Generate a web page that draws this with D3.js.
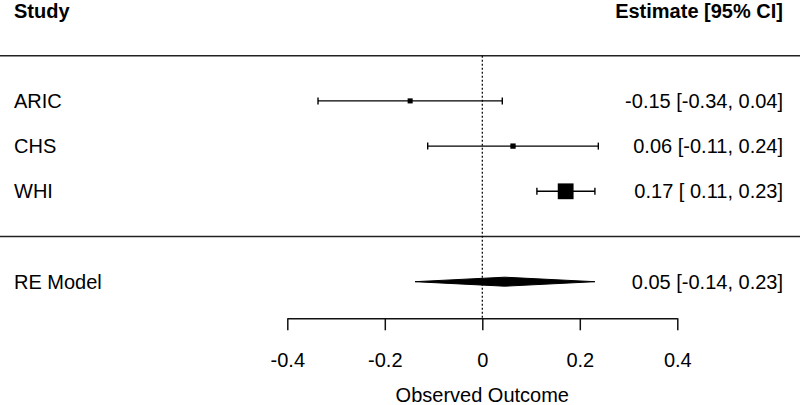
<!DOCTYPE html>
<html>
<head>
    <script type="text/javascript" src="https://d3js.org/d3.v7.min.js"></script>
    <style>
        body { margin: 0; background: #fff; }
        svg { display: block; }
        text { font-family: "Liberation Sans", Arial, sans-serif; font-size: 20px; fill: #000; white-space: pre; }
    </style>
</head>
<body>
    <svg></svg>
    <script>
        // study level results
        const studies = ["ARIC", "CHS", "WHI"];
        const estimates = [-0.148, 0.063, 0.171];
        const lowerCI = [-0.337, -0.112, 0.112];
        const upperCI = [0.041, 0.238, 0.231];
        const weights = [8.4, 9.3, 82.3];

        // pooled random-effects result
        const pooledLabel = "RE Model";
        const pooledEst = 0.046;
        const pooledLower = -0.138;
        const pooledUpper = 0.231;

        const xTicks = [-0.4, -0.2, 0, 0.2, 0.4];

        const width = 800, height = 405;
        const svg = d3.select("svg").attr("width", width).attr("height", height);

        const x = d3.scaleLinear().domain([-0.4, 0.4]).range([287.3, 677.3]);
        // rows: k..1 for studies, 0 separator, -1 pooled, k+1 top line, k+2 headers
        const k = studies.length;
        const y = d3.scaleLinear().domain([0, k + 2]).range([236.5, 10.5]);
        const axisY = 318.3;

        const size = d3.scaleSqrt().domain([0, d3.max(weights)]).range([0, 15.8]);

        // format with a leading space when the column has negatives
        const f2 = v => (Math.round(v * 100) / 100).toFixed(2);
        const padFmt = (vals) => {
            const neg = vals.some(v => v < 0);
            return v => (neg && v >= 0 ? " " : "") + f2(v);
        };
        const allLo = lowerCI.concat([pooledLower]);
        const allHi = upperCI.concat([pooledUpper]);
        const fLo = padFmt(allLo), fHi = padFmt(allHi);
        const label = (e, l, u) => f2(e) + " [" + fLo(l) + ", " + fHi(u) + "]";

        const rows = studies.map((s, i) => ({
            name: s, est: estimates[i], lo: lowerCI[i], hi: upperCI[i], w: weights[i], row: k - i
        }));

        // horizontal rules
        svg.selectAll("line.rule")
            .data([k + 1, 0])
            .enter().append("line")
            .attr("class", "rule")
            .attr("x1", 0).attr("x2", width)
            .attr("y1", d => y(d)).attr("y2", d => y(d))
            .attr("stroke", "#222").attr("stroke-width", 1.6);

        // reference line at zero
        svg.append("line")
            .attr("x1", x(0)).attr("x2", x(0))
            .attr("y1", y(k + 1)).attr("y2", axisY)
            .attr("stroke", "#000").attr("stroke-width", 1.2)
            .attr("stroke-dasharray", "2,2");

        // headers
        svg.append("text").attr("x", 14).attr("y", y(k + 2)).attr("dy", "0.35em")
            .style("font-weight", "bold").text("Study");
        svg.append("text").attr("x", 783).attr("y", y(k + 2)).attr("dy", "0.35em")
            .attr("text-anchor", "end").style("font-weight", "bold").text("Estimate [95% CI]");

        // study rows
        const g = svg.selectAll("g.study").data(rows).enter().append("g").attr("class", "study");
        g.append("line")
            .attr("x1", d => x(d.lo)).attr("x2", d => x(d.hi))
            .attr("y1", d => y(d.row)).attr("y2", d => y(d.row))
            .attr("stroke", "#000").attr("stroke-width", 1.4);
        ["lo", "hi"].forEach(key => {
            g.append("line")
                .attr("x1", d => x(d[key])).attr("x2", d => x(d[key]))
                .attr("y1", d => y(d.row) - 3.5).attr("y2", d => y(d.row) + 3.5)
                .attr("stroke", "#000").attr("stroke-width", 1.4);
        });
        g.append("rect")
            .attr("x", d => x(d.est) - size(d.w) / 2)
            .attr("y", d => y(d.row) - size(d.w) / 2)
            .attr("width", d => size(d.w)).attr("height", d => size(d.w))
            .attr("fill", "#000");
        g.append("text").attr("x", 14).attr("y", d => y(d.row)).attr("dy", "0.35em").text(d => d.name);
        g.append("text").attr("x", 783).attr("y", d => y(d.row)).attr("dy", "0.35em")
            .attr("text-anchor", "end").text(d => label(d.est, d.lo, d.hi));

        // pooled diamond
        const py = y(-1);
        svg.append("polygon")
            .attr("points", [[x(pooledLower), py], [x(pooledEst), py - 4.5], [x(pooledUpper), py], [x(pooledEst), py + 4.5]]
                .map(p => p.join(",")).join(" "))
            .attr("fill", "#000").attr("stroke", "#000").attr("stroke-width", 1);
        svg.append("text").attr("x", 14).attr("y", py).attr("dy", "0.35em").text(pooledLabel);
        svg.append("text").attr("x", 783).attr("y", py).attr("dy", "0.35em")
            .attr("text-anchor", "end").text(label(pooledEst, pooledLower, pooledUpper));

        // x axis
        const axis = svg.append("g")
            .attr("transform", `translate(0,${axisY})`)
            .call(d3.axisBottom(x).tickValues(xTicks).tickSize(12).tickSizeOuter(0)
                .tickPadding(23).tickFormat(d => String(d)));
        axis.selectAll("path, line").attr("stroke", "#111").attr("stroke-width", 1.5);
        axis.selectAll("text").style("font-size", "20px").attr("fill", "#000");
        axis.attr("font-family", null).attr("font-size", null);

        svg.append("text").attr("x", x(0)).attr("y", 402)
            .attr("text-anchor", "middle").text("Observed Outcome");
    </script>
</body>
</html>
